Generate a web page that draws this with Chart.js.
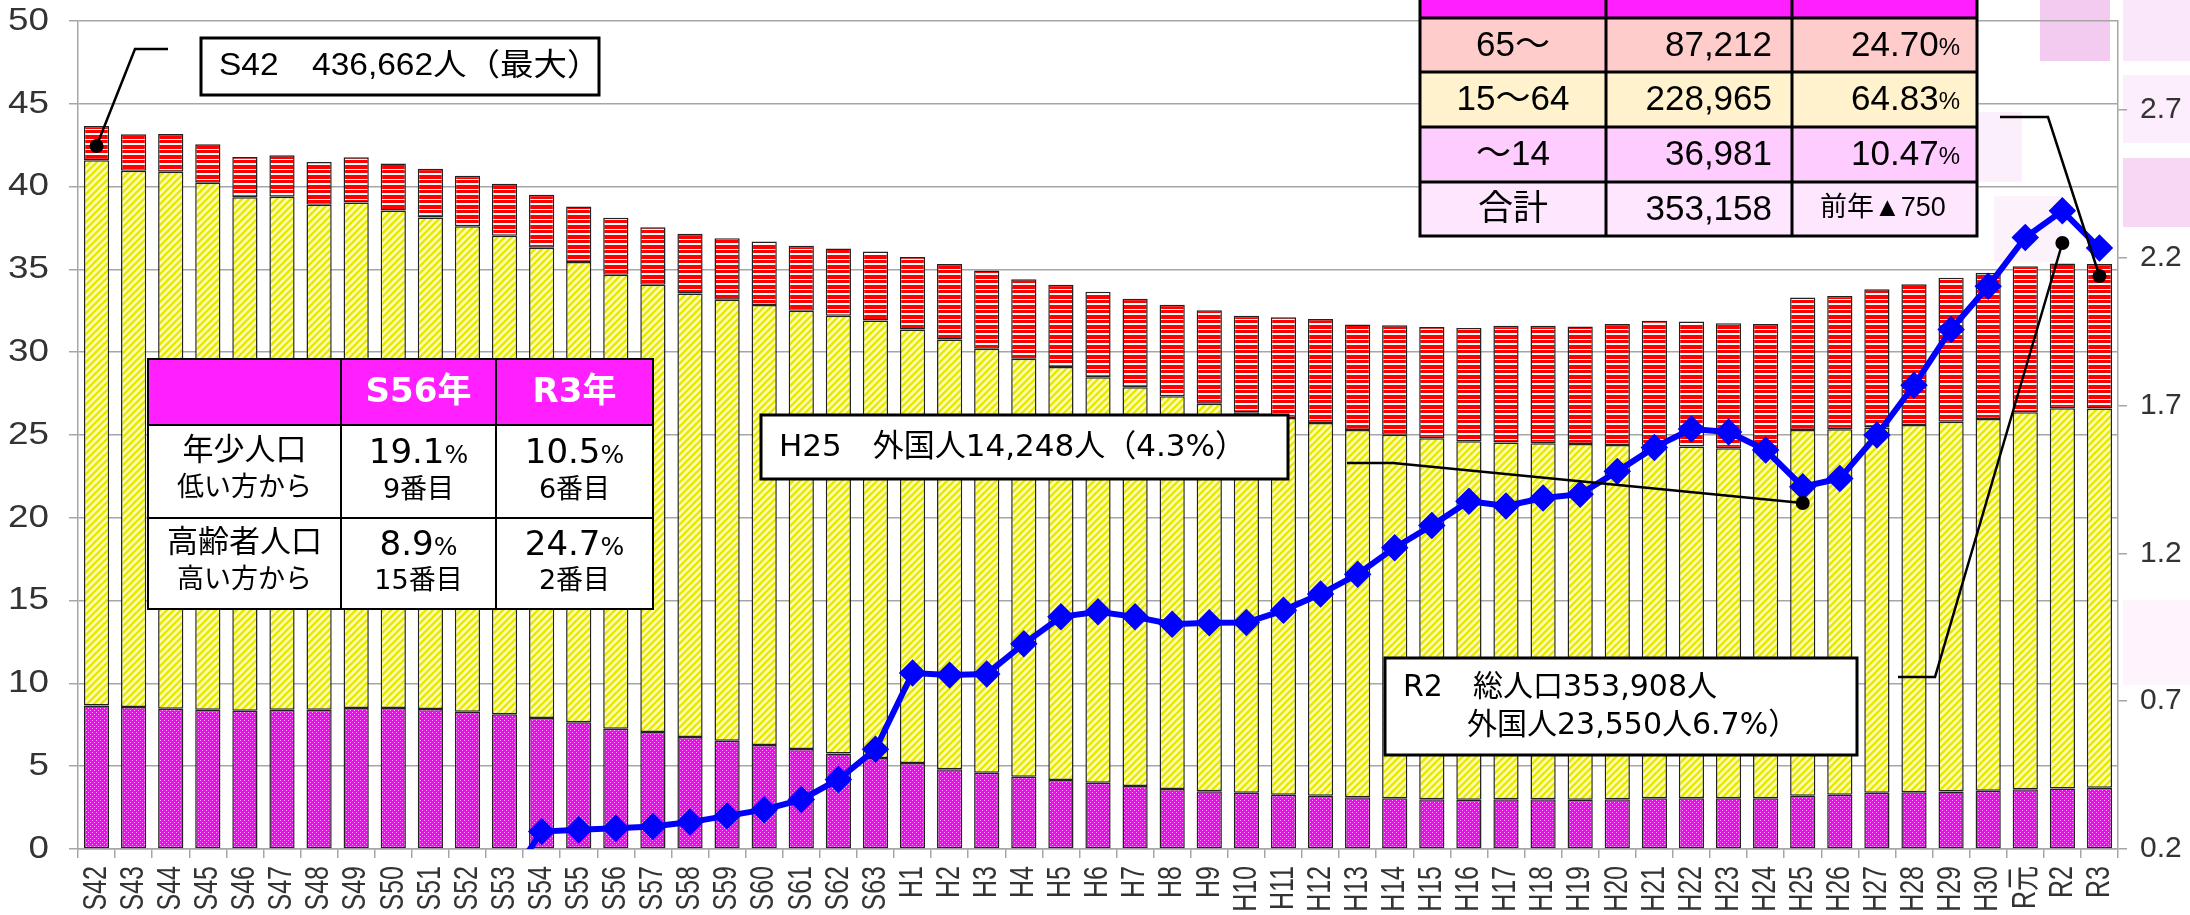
<!DOCTYPE html>
<html lang="ja">
<head>
<meta charset="utf-8">
<title>人口の推移</title>
<script src="https://cdn.jsdelivr.net/npm/chart.js@4.4.1/dist/chart.umd.min.js"></script>
<style>
    html, body { margin: 0; padding: 0; background: #fff; }
    #wrap { width: 2190px; height: 915px; }
</style>
</head>
<body>
<div id="wrap"><canvas id="popChart" width="2190" height="915"></canvas></div>
<script>
// categories (年度)
const categories = ['S42', 'S43', 'S44', 'S45', 'S46', 'S47', 'S48', 'S49', 'S50', 'S51', 'S52', 'S53',
    'S54', 'S55', 'S56', 'S57', 'S58', 'S59', 'S60', 'S61', 'S62', 'S63',
    'H1', 'H2', 'H3', 'H4', 'H5', 'H6', 'H7', 'H8', 'H9', 'H10',
    'H11', 'H12', 'H13', 'H14', 'H15', 'H16', 'H17', 'H18', 'H19', 'H20',
    'H21', 'H22', 'H23', 'H24', 'H25', 'H26', 'H27', 'H28', 'H29', 'H30',
    'R元', 'R2', 'R3'];

// 万人
const children = [8.66, 8.58, 8.47, 8.41, 8.35, 8.41, 8.41, 8.51, 8.51, 8.45, 8.29, 8.13,
    7.91, 7.65, 7.26, 7.06, 6.76, 6.54, 6.28, 6.04, 5.77, 5.49,
    5.19, 4.82, 4.60, 4.36, 4.16, 4.00, 3.80, 3.63, 3.49, 3.39,
    3.27, 3.21, 3.13, 3.07, 3.01, 2.97, 3.01, 3.01, 2.97, 3.01,
    3.07, 3.07, 3.07, 3.07, 3.21, 3.27, 3.39, 3.43, 3.47, 3.51,
    3.61, 3.65, 3.70];
const working = [32.93, 32.38, 32.43, 31.82, 31.00, 30.98, 30.49, 30.53, 30.05, 29.69, 29.31, 28.90,
    28.39, 27.80, 27.42, 27.02, 26.79, 26.63, 26.57, 26.46, 26.43, 26.43,
    26.18, 25.95, 25.61, 25.24, 24.94, 24.49, 24.09, 23.71, 23.39, 22.98,
    22.76, 22.52, 22.17, 21.95, 21.79, 21.65, 21.54, 21.49, 21.48, 21.39,
    21.28, 21.23, 21.13, 21.03, 22.09, 22.08, 22.06, 22.17, 22.33, 22.46,
    22.76, 22.97, 22.90];
const elderly = [2.07, 2.20, 2.28, 2.32, 2.44, 2.50, 2.58, 2.73, 2.83, 2.94, 3.06, 3.14,
    3.21, 3.35, 3.44, 3.47, 3.60, 3.71, 3.83, 3.93, 4.06, 4.16,
    4.38, 4.56, 4.72, 4.80, 4.98, 5.16, 5.34, 5.53, 5.66, 5.83,
    6.08, 6.27, 6.38, 6.60, 6.72, 6.84, 7.05, 7.10, 7.10, 7.30,
    7.55, 7.55, 7.55, 7.60, 8.00, 8.05, 8.35, 8.50, 8.70, 8.82,
    8.82, 8.73, 8.72];
const foreign = [null, null, null, null, null, null, null, null, null, null, null, 0.07,
    0.259, 0.265, 0.270, 0.276, 0.291, 0.312, 0.333, 0.367, 0.435, 0.537,
    0.795, 0.788, 0.792, 0.894, 0.985, 1.002, 0.985, 0.960, 0.965, 0.966,
    1.007, 1.062, 1.129, 1.219, 1.294, 1.376, 1.360, 1.387, 1.400, 1.477,
    1.558, 1.620, 1.610, 1.549, 1.425, 1.453, 1.600, 1.768, 1.957, 2.103,
    2.268, 2.358, 2.232];

const leftTicks = { min: 0, max: 50, step: 5 };
const rightTicks = [0.2, 0.7, 1.2, 1.7, 2.2, 2.7];

// table texts
const ageRows = ['65〜', '15〜64', '〜14', '合計'];
const ageCounts = ['87,212', '228,965', '36,981', '353,158'];
const agePcts = ['24.70', '64.83', '10.47'];
const compareHead = ['S56年', 'R3年'];

const TICK_FONT = "'Liberation Sans', 'Noto Sans CJK JP', sans-serif";
const JP_FONT = "'Liberation Sans', 'Noto Sans CJK JP', sans-serif";
const WIDE_FONT = "'DejaVu Sans', 'Noto Sans CJK JP', sans-serif";
const GRID = '#A6A6A6';
const PLOT_TOP = 21;

function makePattern(w, h, paint) {
    const c = document.createElement('canvas');
    c.width = w;
    c.height = h;
    const g = c.getContext('2d');
    paint(g);
    return g.createPattern(c, 'repeat');
}

const dotPink = makePattern(4, 4, g => {
    g.fillStyle = '#FF00FF';
    g.fillRect(0, 0, 4, 4);
    g.fillStyle = '#FFB0FF';
    g.fillRect(0, 0, 1, 1);
    g.fillRect(2, 2, 1, 1);
});
const hatchYellow = makePattern(7, 7, g => {
    g.fillStyle = '#FFFFB8';
    g.fillRect(0, 0, 7, 7);
    g.strokeStyle = '#E8E800';
    g.lineWidth = 2.5;
    g.beginPath();
    g.moveTo(-2, 9); g.lineTo(9, -2);
    g.moveTo(-2, 2); g.lineTo(2, -2);
    g.moveTo(5, 9); g.lineTo(9, 5);
    g.stroke();
});
const stripeRed = makePattern(4, 10, g => {
    g.fillStyle = '#FFFFFF';
    g.fillRect(0, 0, 4, 10);
    g.fillStyle = '#FF0000';
    g.fillRect(0, 0, 4, 3);
    g.fillRect(0, 5, 4, 4);
});

function rect(ctx, x1, y1, x2, y2, fill, lw) {
    if (fill) {
        ctx.fillStyle = fill;
        ctx.fillRect(x1, y1, x2 - x1, y2 - y1);
    }
    if (lw) {
        ctx.lineWidth = lw;
        ctx.strokeStyle = '#000';
        ctx.strokeRect(x1, y1, x2 - x1, y2 - y1);
    }
}

function text(ctx, str, x, y, font, align, color) {
    ctx.font = font;
    ctx.textAlign = align || 'left';
    ctx.textBaseline = 'middle';
    ctx.fillStyle = color || '#000';
    ctx.fillText(str, x, y);
}

// text drawn a little wider than the font, like the source picture
function wideText(ctx, str, x, y, font, align, sx, color) {
    ctx.save();
    ctx.translate(x, y);
    ctx.scale(sx, 1);
    text(ctx, str, 0, 0, font, align, color);
    ctx.restore();
}

// number with a smaller "%" sign, centered or right aligned
function pct(ctx, num, x, y, bigFont, smallFont, align) {
    ctx.font = bigFont;
    const wn = ctx.measureText(num).width;
    ctx.font = smallFont;
    const wp = ctx.measureText('%').width;
    const start = align === 'right' ? x - wn - wp : x - (wn + wp) / 2;
    text(ctx, num, start, y, bigFont, 'left');
    text(ctx, '%', start + wn, y + 2, smallFont, 'left');
}

function leader(ctx, pts, dot) {
    ctx.strokeStyle = '#000';
    ctx.lineWidth = 2.5;
    ctx.beginPath();
    ctx.moveTo(pts[0][0], pts[0][1]);
    for (let i = 1; i < pts.length; i++) ctx.lineTo(pts[i][0], pts[i][1]);
    ctx.stroke();
    ctx.fillStyle = '#000';
    ctx.beginPath();
    ctx.arc(dot[0], dot[1], 7, 0, Math.PI * 2);
    ctx.fill();
}

const notes = {
    id: 'notes',
    beforeDraw(chart) {
        const ctx = chart.ctx;
        ctx.save();
        // faint decorative squares at the right edge
        [[2040, 0, 70, 61, '#F3CBF1'], [2123, 0, 67, 61, '#FAE8FA'], [2123, 75, 67, 68, '#FCEEFC'],
         [2123, 158, 67, 69, '#F6D8F4'], [1994, 196, 68, 66, '#FCF2FC'], [1977, 112, 45, 70, '#FBEFFB'],
         [2123, 600, 67, 85, '#FDF4FD']].forEach(s => {
            ctx.fillStyle = s[4];
            ctx.fillRect(s[0], s[1], s[2], s[3]);
        });
        ctx.restore();
    },
    afterDraw(chart) {
        const ctx = chart.ctx;
        const x = chart.scales.x;
        const y = chart.scales.y;
        const y2 = chart.scales.y2;
        ctx.save();

        // tick labels
        y.ticks.forEach(t => {
            wideText(ctx, String(t.value), 49, y.getPixelForValue(t.value), '32px ' + TICK_FONT, 'right', 1.15, '#333');
        });
        y2.ticks.forEach(t => {
            wideText(ctx, t.value.toFixed(1), 2140, y2.getPixelForValue(t.value), '30px ' + TICK_FONT, 'left', 1.0, '#333');
        });
        ctx.font = '25px ' + TICK_FONT;
        ctx.fillStyle = '#333';
        ctx.textAlign = 'right';
        ctx.textBaseline = 'middle';
        categories.forEach((lab, i) => {
            ctx.save();
            ctx.translate(x.getPixelForValue(i), 866);
            ctx.rotate(-Math.PI / 2);
            ctx.scale(1, 1.35);
            ctx.fillText(lab, 0, 0);
            ctx.restore();
        });

        // S42 max
        leader(ctx, [[168, 49], [135, 49], [x.getPixelForValue(0), 146]], [x.getPixelForValue(0), 146]);
        rect(ctx, 201, 38, 599, 95, '#fff', 3);
        wideText(ctx, 'S42　436,662人（最大）', 219, 66, '31px ' + JP_FONT, 'left', 1.08);

        // comparison table (left)
        const c = [148, 341, 496, 653];
        const r = [359, 425, 518, 609];
        rect(ctx, c[0], r[0], c[3], r[1], '#FF1FFF');
        rect(ctx, c[0], r[1], c[3], r[3], '#fff');
        ctx.lineWidth = 2;
        ctx.strokeStyle = '#000';
        ctx.beginPath();
        [c[1], c[2]].forEach(v => { ctx.moveTo(v, r[0]); ctx.lineTo(v, r[3]); });
        [r[1], r[2]].forEach(v => { ctx.moveTo(c[0], v); ctx.lineTo(c[3], v); });
        ctx.stroke();
        ctx.strokeRect(c[0], r[0], c[3] - c[0], r[3] - r[0]);
        const mid = i => (c[i] + c[i + 1]) / 2;
        text(ctx, compareHead[0], mid(1), 393, 'bold 34px ' + WIDE_FONT, 'center', '#fff');
        text(ctx, compareHead[1], mid(2), 393, 'bold 34px ' + WIDE_FONT, 'center', '#fff');
        text(ctx, '年少人口', mid(0), 452, '31px ' + WIDE_FONT, 'center');
        text(ctx, '低い方から', mid(0), 489, '27px ' + WIDE_FONT, 'center');
        text(ctx, '高齢者人口', mid(0), 544, '31px ' + WIDE_FONT, 'center');
        text(ctx, '高い方から', mid(0), 581, '27px ' + WIDE_FONT, 'center');
        const big = '34px ' + WIDE_FONT, small = '25px ' + WIDE_FONT, rank = '27px ' + WIDE_FONT;
        pct(ctx, '19.1', mid(1), 454, big, small);
        pct(ctx, '10.5', mid(2), 454, big, small);
        pct(ctx, '8.9', mid(1), 546, big, small);
        pct(ctx, '24.7', mid(2), 546, big, small);
        text(ctx, '9番目', mid(1), 491, rank, 'center');
        text(ctx, '6番目', mid(2), 491, rank, 'center');
        text(ctx, '15番目', mid(1), 582, rank, 'center');
        text(ctx, '2番目', mid(2), 582, rank, 'center');

        // H25 foreign residents
        leader(ctx, [[1347, 463], [1393, 463], [x.getPixelForValue(46), 503]], [x.getPixelForValue(46), 503]);
        rect(ctx, 761, 415, 1288, 479, '#fff', 3);
        text(ctx, 'H25　外国人14,248人（4.3%）', 779, 448, '31px ' + WIDE_FONT, 'left');

        // R2 total
        leader(ctx, [[1898, 677], [1935, 677], [x.getPixelForValue(53), 243]], [x.getPixelForValue(53), 243]);
        rect(ctx, 1385, 658, 1857, 755, '#fff', 3);
        text(ctx, 'R2　総人口353,908人', 1403, 688, '30px ' + WIDE_FONT, 'left');
        text(ctx, '外国人23,550人6.7%）', 1467, 726, '30px ' + WIDE_FONT, 'left');

        // age table (top right)
        leader(ctx, [[2000, 117], [2048, 117], [x.getPixelForValue(54), 276]], [x.getPixelForValue(54), 276]);
        const tc = [1420, 1606, 1792, 1977];
        const tr = [-40, 18, 72, 127, 182, 236];
        const fills = ['#FF1FFF', '#FFCCCC', '#FFF2CC', '#FFCCFF', '#FFE6FF'];
        fills.forEach((f, i) => rect(ctx, tc[0], tr[i], tc[3], tr[i + 1], f));
        ctx.lineWidth = 3;
        ctx.strokeStyle = '#000';
        ctx.beginPath();
        [tc[1], tc[2]].forEach(v => { ctx.moveTo(v, tr[0]); ctx.lineTo(v, tr[5]); });
        tr.slice(1, 5).forEach(v => { ctx.moveTo(tc[0], v); ctx.lineTo(tc[3], v); });
        ctx.stroke();
        ctx.strokeRect(tc[0], tr[0], tc[3] - tc[0], tr[5] - tr[0]);
        const tf = '35px ' + JP_FONT;
        ageRows.forEach((lab, i) => {
            const cy = (tr[i + 1] + tr[i + 2]) / 2 + 1;
            text(ctx, lab, (tc[0] + tc[1]) / 2, cy, tf, 'center');
            text(ctx, ageCounts[i], 1772, cy, tf, 'right');
            if (i < agePcts.length) pct(ctx, agePcts[i], 1960, cy, tf, '24px ' + JP_FONT, 'right');
        });
        text(ctx, '前年▲750', 1883, (tr[4] + tr[5]) / 2, '27px ' + JP_FONT, 'center');

        ctx.restore();
    }
};

const barStyle = {
    type: 'bar',
    borderColor: '#222',
    borderWidth: 1.5,
    borderSkipped: false,
    barPercentage: 0.68,
    categoryPercentage: 1.0,
    order: 2
};

function noPad(scale) {
    scale.paddingTop = 0;
    scale.paddingBottom = 0;
    scale.paddingLeft = 0;
    scale.paddingRight = 0;
}

const chart = new Chart(document.getElementById('popChart'), {
    data: {
        labels: categories,
        datasets: [
            { ...barStyle, label: '〜14', data: children, backgroundColor: dotPink },
            { ...barStyle, label: '15〜64', data: working, backgroundColor: hatchYellow },
            { ...barStyle, label: '65〜', data: elderly, backgroundColor: stripeRed },
            {
                type: 'line',
                label: '外国人',
                data: foreign,
                yAxisID: 'y2',
                borderColor: '#0000FF',
                backgroundColor: '#0000FF',
                borderWidth: 6,
                pointStyle: 'rectRot',
                pointRadius: 9.5,
                pointHoverRadius: 9.5,
                spanGaps: false,
                order: 0
            }
        ]
    },
    options: {
        responsive: false,
        animation: false,
        devicePixelRatio: 1,
        layout: { autoPadding: false, padding: { top: PLOT_TOP, left: 0, right: 0, bottom: 0 } },
        plugins: {
            legend: { display: false },
            tooltip: { enabled: false }
        },
        scales: {
            x: {
                stacked: true,
                offset: true,
                grid: { offset: true, drawOnChartArea: false, tickLength: 9, color: GRID, lineWidth: 1.5 },
                border: { color: GRID, width: 1.5 },
                ticks: { display: false, autoSkip: false },
                afterFit(scale) { noPad(scale); scale.height = 66; }
            },
            y: {
                stacked: true,
                position: 'left',
                min: leftTicks.min,
                max: leftTicks.max,
                ticks: { display: false, stepSize: leftTicks.step },
                grid: { color: GRID, lineWidth: 1.5, tickLength: 9 },
                border: { color: GRID, width: 1.5 },
                afterFit(scale) { noPad(scale); scale.width = 78; }
            },
            y2: {
                position: 'right',
                min: 0.2,
                max: 3.0,
                afterBuildTicks(scale) {
                    scale.ticks = rightTicks.map(v => ({ value: v }));
                },
                ticks: { display: false },
                grid: { drawOnChartArea: false, color: GRID, lineWidth: 1.5, tickLength: 9 },
                border: { color: GRID, width: 1.5 },
                afterFit(scale) { noPad(scale); scale.width = 72; }
            }
        }
    },
    plugins: [notes]
});

// keep the plot top where the source has it
const shift = chart.chartArea.top - PLOT_TOP;
if (Math.abs(shift) > 0.5) {
    chart.options.layout.padding.top = PLOT_TOP - shift;
    chart.update();
}
</script>
</body>
</html>
